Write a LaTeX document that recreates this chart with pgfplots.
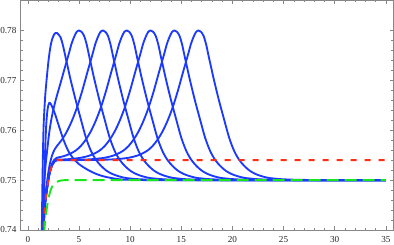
\documentclass[border=0pt]{standalone}
\usepackage{fontspec}
\setmainfont{Liberation Serif}
\usepackage{pgfplots}
\pgfplotsset{compat=1.18}
\definecolor{mblue}{RGB}{28,58,255}
\definecolor{mred}{RGB}{255,45,20}
\definecolor{mgreen}{RGB}{25,230,25}
\definecolor{fr}{RGB}{135,135,135}
\begin{document}
\begin{tikzpicture}
\begin{axis}[
  scale only axis, width=372.3bp, height=229.5bp,
  xmin=-0.7, xmax=35.7, ymin=0.74, ymax=0.786,
  xtick={0,5,...,35},
  ytick={0.74,0.75,0.76,0.77,0.78},
  yticklabels={0.74,0.75,0.76,0.77,0.78},
  scaled y ticks=false,
  minor x tick num=4, minor y tick num=4,
  tick align=inside, major tick length=3.5bp, minor tick length=2bp,
  axis line style={fr, line width=0.7bp},
  tick style={fr, line width=0.5bp},
  tick label style={font=\fontsize{9.2}{10}\selectfont, text=black!85},
  /pgf/number format/assume math mode=true,
  xticklabel style={yshift=-3bp},
  yticklabel style={xshift=-0.8bp},
  every axis plot/.append style={line join=round},
  blue/.style={mblue, line width=1.85bp, smooth},
]
\coordinate (bl) at (rel axis cs:0,0);
\coordinate (tr) at (rel axis cs:1,1);
% P1
\addplot[blue] coordinates {(1.3,0.700) (1.4,0.725) (1.5,0.740) (1.6,0.7495) (1.7,0.7565) (1.8,0.7612) (1.9,0.7637) (2.0,0.7650) (2.1,0.7655) (2.2,0.7654) (2.35,0.7648) (2.5,0.7641) (2.7,0.7630) (2.9,0.7617) (3.2,0.7598) (3.5,0.7580) (3.8,0.7565) (4.1,0.7553) (4.5,0.7542) (5.0,0.7532) (5.5,0.7525) (6.0,0.7519) (6.5,0.7514) (7.0,0.7510) (7.7,0.7506) (8.5,0.7503) (9.3,0.7501) (10.3,0.75005) (11.5,0.7500) (13.5,0.75) (17,0.75) (22,0.75) (28,0.75) (35,0.75)};
% P2
\addplot[blue] coordinates {(1.2,0.70784) (1.3,0.72856) (1.37,0.74107) (1.45,0.75264) (1.53,0.76022) (1.6,0.76352) (1.7,0.76695) (1.8,0.76941) (1.9,0.77157) (2.0,0.77359) (2.12,0.77556) (2.25,0.77719) (2.4,0.7784) (2.6,0.7793) (2.84,0.7795) (3.2,0.7786) (3.43,0.7770) (3.68,0.7747) (3.93,0.7724) (4.18,0.7701) (4.68,0.7660) (5.18,0.7622) (5.68,0.7585) (6.18,0.7558) (6.68,0.7540) (7.18,0.7528) (7.68,0.7519) (8.18,0.7513) (8.68,0.7509) (9.18,0.7506) (9.68,0.7504) (10.68,0.7502) (11.68,0.7501) (12.68,0.75005) (14.68,0.75) (18,0.75) (23,0.75) (29,0.75) (35,0.75)};
% P3
\addplot[blue] coordinates {(1.2,0.69478) (1.3,0.71512) (1.37,0.72736) (1.45,0.73863) (1.53,0.74593) (1.6,0.74904) (1.7,0.75218) (1.8,0.75432) (1.9,0.75616) (2.0,0.7580) (2.12,0.75995) (2.25,0.76165) (2.4,0.76326) (2.6,0.76506) (2.84,0.76694) (3.2,0.76948) (3.5,0.7717) (4.0,0.7753) (4.25,0.7772) (4.5,0.7786) (4.75,0.77965) (5.0,0.7800) (5.25,0.77972) (5.5,0.7789) (5.75,0.7772) (6.0,0.7748) (6.25,0.7725) (6.5,0.7702) (7.0,0.7660) (7.5,0.7622) (8.0,0.7585) (8.5,0.7558) (9.0,0.7540) (9.5,0.7528) (10,0.7519) (10.5,0.7513) (11,0.7509) (11.5,0.7506) (12,0.7504) (13,0.7502) (14,0.7501) (15,0.75005) (17,0.75) (21,0.75) (26,0.75) (35,0.75)};
% P4
\addplot[blue] coordinates {(1.2,0.69083) (1.3,0.71088) (1.37,0.72293) (1.45,0.7340) (1.53,0.74107) (1.6,0.74393) (1.7,0.74671) (1.8,0.7485) (1.9,0.7500) (2.0,0.75152) (2.12,0.75296) (2.25,0.75411) (2.4,0.75513) (2.6,0.75609) (2.84,0.75683) (3.33,0.7581) (3.83,0.7598) (4.33,0.7620) (4.83,0.7647) (5.33,0.7680) (5.83,0.7717) (6.33,0.7753) (6.58,0.7772) (6.83,0.7786) (7.08,0.77965) (7.33,0.7800) (7.58,0.77972) (7.83,0.7789) (8.08,0.7772) (8.33,0.7748) (8.58,0.7725) (8.83,0.7702) (9.33,0.7660) (9.83,0.7622) (10.33,0.7585) (10.83,0.7558) (11.33,0.7540) (11.83,0.7528) (12.33,0.7519) (12.83,0.7513) (13.33,0.7509) (13.83,0.7506) (14.33,0.7504) (15.33,0.7502) (16.33,0.7501) (17.33,0.75005) (19.33,0.75) (23,0.75) (28,0.75) (35,0.75)};
% P5
\addplot[blue] coordinates {(1.2,0.69015) (1.3,0.71015) (1.37,0.72217) (1.45,0.73318) (1.53,0.7402) (1.6,0.74302) (1.7,0.74573) (1.8,0.74743) (1.9,0.74885) (2.0,0.75027) (2.12,0.7516) (2.25,0.75263) (2.4,0.75346) (2.6,0.75412) (2.84,0.75449) (3.2,0.75464) (3.66,0.7549) (4.16,0.75532) (4.66,0.7559) (5.16,0.7568) (5.66,0.7581) (6.16,0.7598) (6.66,0.7620) (7.16,0.7647) (7.66,0.7680) (8.16,0.7717) (8.66,0.7753) (8.91,0.7772) (9.16,0.7786) (9.41,0.77965) (9.66,0.7800) (9.91,0.77972) (10.16,0.7789) (10.41,0.7772) (10.66,0.7748) (10.91,0.7725) (11.16,0.7702) (11.66,0.7660) (12.16,0.7622) (12.66,0.7585) (13.16,0.7558) (13.66,0.7540) (14.16,0.7528) (14.66,0.7519) (15.16,0.7513) (15.66,0.7509) (16.16,0.7506) (16.66,0.7504) (17.66,0.7502) (18.66,0.7501) (19.66,0.75005) (21.66,0.75) (25,0.75) (30,0.75) (35,0.75)};
% P6
\addplot[blue] coordinates {(1.2,0.690) (1.3,0.710) (1.37,0.722) (1.45,0.733) (1.53,0.74005) (1.6,0.74285) (1.7,0.74555) (1.8,0.74725) (1.9,0.74866) (2.0,0.75006) (2.12,0.75137) (2.25,0.75238) (2.4,0.75318) (2.6,0.75379) (2.84,0.7541) (3.2,0.75412) (4.0,0.7542) (5.0,0.75442) (5.5,0.75462) (6.0,0.7549) (6.5,0.75532) (7.0,0.7559) (7.5,0.7568) (8.0,0.7581) (8.5,0.7598) (9.0,0.7620) (9.5,0.7647) (10,0.7680) (10.5,0.7717) (11,0.7753) (11.25,0.7772) (11.5,0.7786) (11.75,0.77965) (12,0.7800) (12.25,0.77972) (12.5,0.7789) (12.75,0.7772) (13,0.7748) (13.25,0.7725) (13.5,0.7702) (14,0.7660) (14.5,0.7622) (15,0.7585) (15.5,0.7558) (16,0.7540) (16.5,0.7528) (17,0.7519) (17.5,0.7513) (18,0.7509) (18.5,0.7506) (19,0.7504) (20,0.7502) (21,0.7501) (22,0.75005) (24,0.75) (27,0.75) (31,0.75) (35,0.75)};
% P7
\addplot[blue] coordinates {(1.2,0.690) (1.3,0.710) (1.37,0.722) (1.45,0.733) (1.53,0.740) (1.6,0.7428) (1.7,0.7455) (1.8,0.7472) (1.9,0.74862) (2.0,0.75002) (2.12,0.75132) (2.25,0.75233) (2.4,0.75313) (2.6,0.75373) (2.84,0.75403) (3.2,0.75404) (3.7,0.75404) (4.33,0.75405) (5.33,0.7541) (6.33,0.7542) (7.33,0.75442) (7.83,0.75462) (8.33,0.7549) (8.83,0.75532) (9.33,0.7559) (9.83,0.7568) (10.33,0.7581) (10.83,0.7598) (11.33,0.7620) (11.83,0.7647) (12.33,0.7680) (12.83,0.7717) (13.33,0.7753) (13.58,0.7772) (13.83,0.7786) (14.08,0.77965) (14.33,0.7800) (14.58,0.77972) (14.83,0.7789) (15.08,0.7772) (15.33,0.7748) (15.58,0.7725) (15.83,0.7702) (16.33,0.7660) (16.83,0.7622) (17.33,0.7585) (17.83,0.7558) (18.33,0.7540) (18.83,0.7528) (19.33,0.7519) (19.83,0.7513) (20.33,0.7509) (20.83,0.7506) (21.33,0.7504) (22.33,0.7502) (23.33,0.7501) (24.33,0.75005) (26.33,0.75) (29,0.75) (32,0.75) (35,0.75)};
% P8
\addplot[blue] coordinates {(1.2,0.690) (1.3,0.710) (1.37,0.722) (1.45,0.733) (1.53,0.740) (1.6,0.7428) (1.7,0.7455) (1.8,0.7472) (1.9,0.7486) (2.0,0.7500) (2.12,0.7513) (2.25,0.7523) (2.4,0.7531) (2.6,0.7537) (2.84,0.7540) (3.2,0.7540) (3.8,0.7540) (4.68,0.75401) (5.68,0.75403) (6.68,0.75405) (7.68,0.7541) (8.68,0.7542) (9.68,0.75442) (10.18,0.75462) (10.68,0.7549) (11.18,0.75532) (11.68,0.7559) (12.18,0.7568) (12.68,0.7581) (13.18,0.7598) (13.68,0.7620) (14.18,0.7647) (14.68,0.7680) (15.18,0.7717) (15.68,0.7753) (15.93,0.7772) (16.18,0.7786) (16.43,0.77965) (16.68,0.7800) (16.93,0.77972) (17.18,0.7789) (17.43,0.7772) (17.68,0.7748) (17.93,0.7725) (18.18,0.7702) (18.68,0.7660) (19.18,0.7622) (19.68,0.7585) (20.18,0.7558) (20.68,0.7540) (21.18,0.7528) (21.68,0.7519) (22.18,0.7513) (22.68,0.7509) (23.18,0.7506) (23.68,0.7504) (24.68,0.7502) (25.68,0.7501) (26.68,0.75005) (28.68,0.75) (31.5,0.75) (35,0.75)};
% red dashed
\addplot[mred, line width=1.9bp, smooth, dash pattern=on 6bp off 8bp] coordinates {(1.2,0.690) (1.3,0.710) (1.37,0.722) (1.45,0.733) (1.53,0.740) (1.6,0.7428) (1.7,0.7455) (1.8,0.7472) (1.9,0.7486) (2.0,0.7500) (2.12,0.7513) (2.25,0.7523) (2.4,0.7531) (2.6,0.7537) (2.84,0.7540) (3.2,0.7540) (4,0.754) (5.5,0.754) (8,0.754) (12,0.754) (18,0.754) (26,0.754) (35,0.754)};
% green dashed
\addplot[mgreen, line width=1.9bp, smooth, dash pattern=on 12bp off 6bp] coordinates {(1.4,0.725) (1.5,0.735) (1.62,0.740) (1.75,0.7428) (1.9,0.7450) (2.05,0.7466) (2.2,0.7478) (2.4,0.7488) (2.7,0.7495) (3.0,0.7498) (3.5,0.74998) (4.5,0.75) (6.5,0.75) (10,0.75) (15,0.75) (22,0.75) (29,0.75) (35,0.75)};
\end{axis}
\pgfresetboundingbox
\path ([xshift=-20.7bp,yshift=-15bp]bl) rectangle ([xshift=1bp,yshift=0.5bp]tr);
\end{tikzpicture}
\end{document}
